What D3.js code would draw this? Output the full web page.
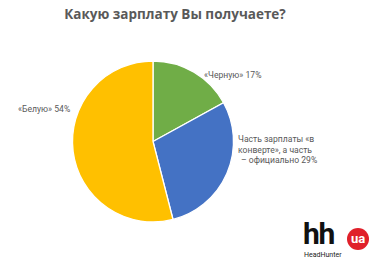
<!DOCTYPE html>
<html>
<head>
<meta charset="utf-8">
<script src="https://cdn.jsdelivr.net/npm/d3@7"></script>
<style>
  html, body { margin: 0; padding: 0; background: #fff; }
  svg { display: block; font-family: "Open Sans", "Liberation Sans", sans-serif; }
</style>
</head>
<body>
<svg id="chart" width="382" height="271"></svg>
<script>
// slices, clockwise from 12 o'clock
var categories = ["«Черную»", "Часть зарплаты «в конверте», а часть – официально", "«Белую»"];
var values = [17, 29, 54];
var colors = ["#70AD47", "#4472C4", "#FFC000"];
var labelLines = [
  ["«Черную»  17%"],
  ["Часть зарплаты «в", "конверте», а часть", "–  официально 29%"],
  ["«Белую»  54%"]
];
var title = "Какую зарплату Вы получаете?";

(function () {
  "use strict";
  var svg = d3.select("#chart");
  var cx = 153, cy = 141.5, R = 80.5;
  var ink = "#595959";

  svg.append("text").attr("x", 175).attr("y", 19).attr("text-anchor", "middle")
    .style("font-size", "13.5px").style("font-weight", "700").attr("fill", ink)
    .text(title);

  var pie = d3.pie().sort(null).value(function (d) { return d; });
  var arc = d3.arc().innerRadius(0).outerRadius(R);
  var arcs = pie(values);

  var g = svg.append("g").attr("transform", "translate(" + cx + "," + cy + ")");
  g.selectAll("path").data(arcs).enter().append("path")
    .attr("d", arc)
    .attr("fill", function (d, i) { return colors[i]; })
    .attr("stroke", "#fff").attr("stroke-width", 1.3);

  // label anchors (left edge + first baseline)
  var labelPos = [[204, 78], [238, 142], [18, 112]];
  labelLines.forEach(function (lines, i) {
    var t = svg.append("text").attr("x", labelPos[i][0]).attr("y", labelPos[i][1])
      .style("font-family", "Roboto, 'Open Sans', sans-serif")
      .style("font-size", "8.6px").attr("fill", ink);
    lines.forEach(function (s, j) {
      t.append("tspan").attr("x", labelPos[i][0] + (i === 1 && j === 2 ? 3 : 0))
        .attr("dy", j ? 10.6 : 0).text(s);
    });
  });

  // HeadHunter logo
  var logo = svg.append("g").style("font-family", "Roboto, 'Liberation Sans', sans-serif");
  logo.append("text").attr("x", 303).attr("y", 244)
    .style("font-size", "30px").style("font-weight", "700")
    .style("letter-spacing", "-1.2px").attr("fill", "#111").text("hh");
  logo.append("circle").attr("cx", 358).attr("cy", 239).attr("r", 11).attr("fill", "#E0202A");
  logo.append("text").attr("x", 358).attr("y", 243).attr("text-anchor", "middle")
    .style("font-size", "13px").style("font-weight", "700")
    .attr("fill", "#fff").text("ua");
  logo.append("text").attr("x", 304).attr("y", 257)
    .style("font-size", "7px")
    .attr("fill", "#222").text("HeadHunter");
})();
</script>
</body>
</html>
